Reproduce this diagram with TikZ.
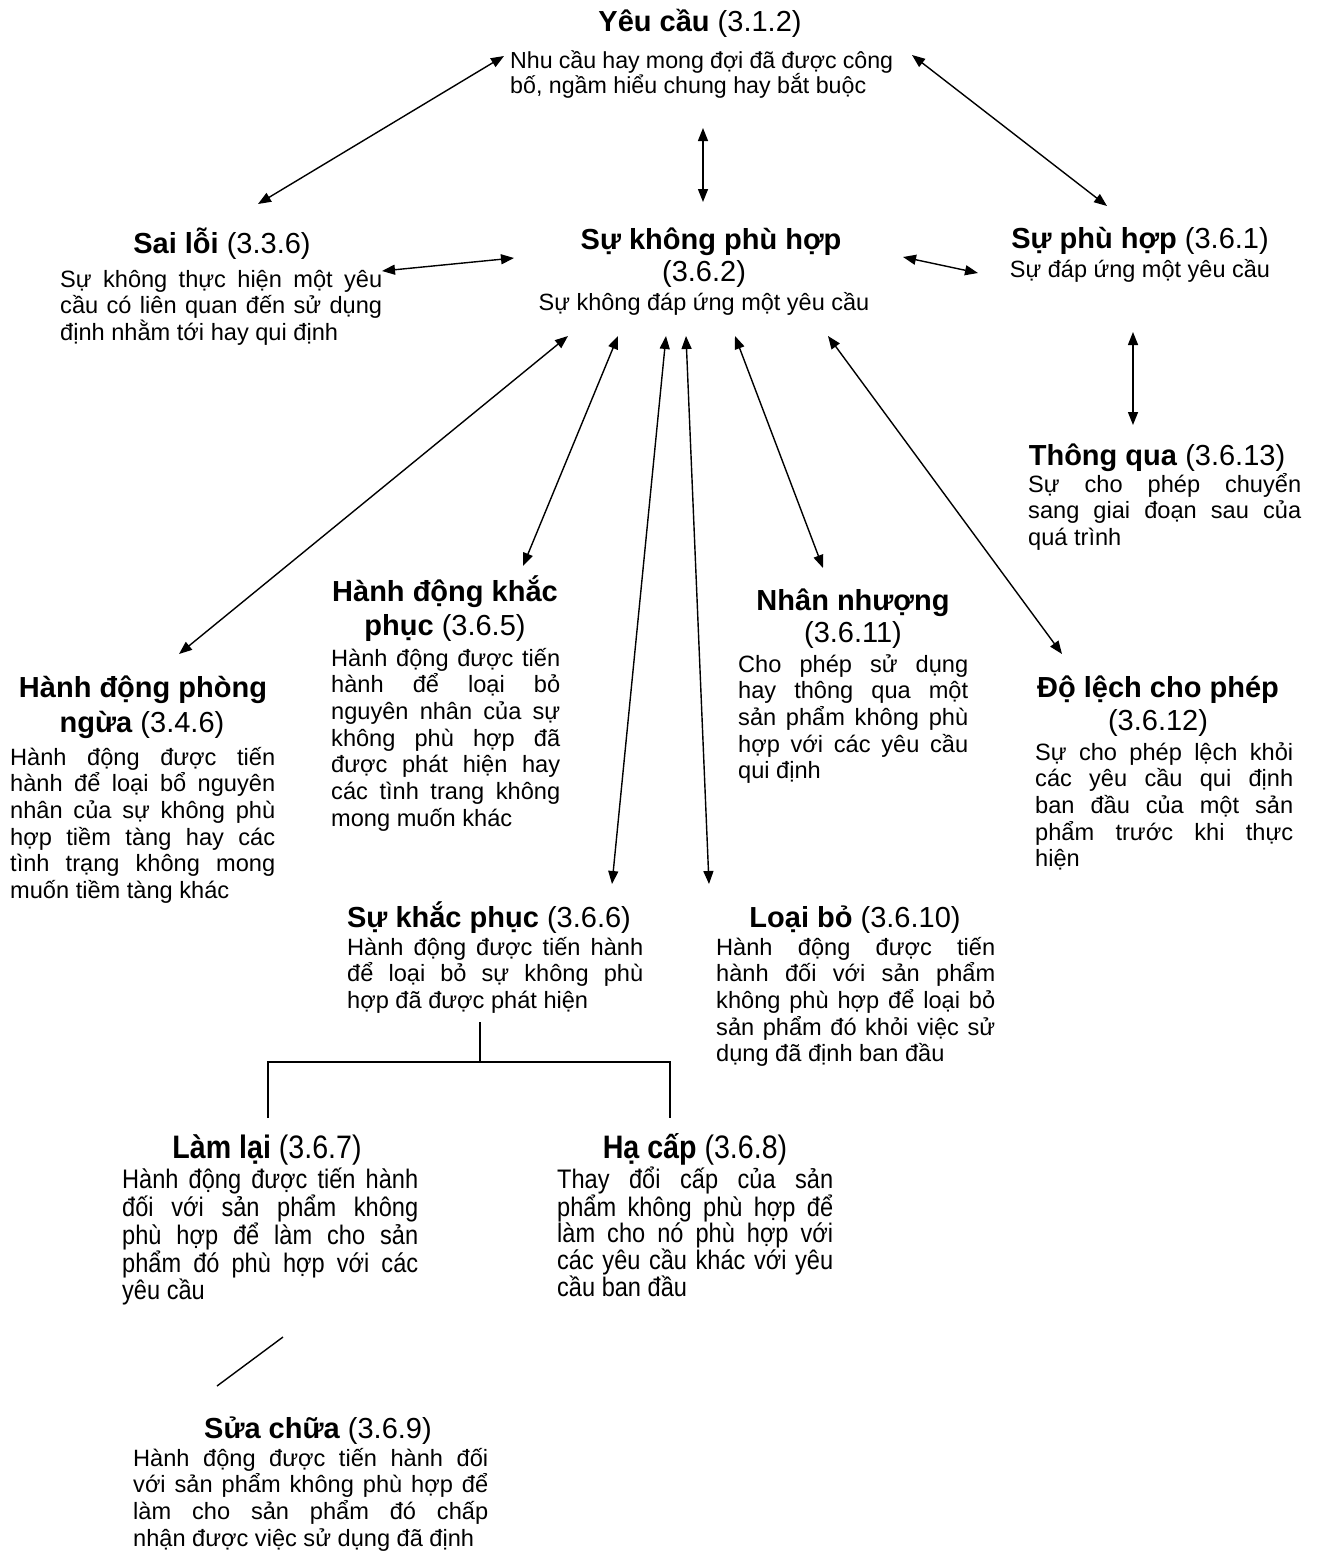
\documentclass[tikz,border=0pt]{standalone}
\usepackage{fontspec}
\setmainfont{Liberation Sans}
\newfontfamily\narrowfont[FakeStretch=0.88]{Liberation Sans}
\usetikzlibrary{arrows.meta}

\tikzset{
  headtext/.style={font=\fontsize{29}{33}\selectfont,anchor=base,inner sep=0pt},
  desctext/.style={font=\fontsize{23.6}{26.7}\selectfont,anchor=base west,inner sep=0pt,align=justify},
  smalltext/.style={font=\fontsize{23.5}{26}\selectfont,anchor=base,inner sep=0pt},
  narrowhead/.style={headtext,font=\narrowfont\fontsize{32.5}{36}\selectfont},
  narrowdesc/.style={desctext,font=\narrowfont\fontsize{26.8}{26.7}\selectfont},
  biarrow/.style={{Triangle[length=13pt,width=10pt]}-{Triangle[length=13pt,width=10pt]},line width=1.4pt},
  treeline/.style={line width=1.4pt}
}

\begin{document}
\begin{tikzpicture}[x=1pt,y=-1pt]
    \useasboundingbox (0,0) rectangle (1319,1553);
    %terms
    \node[headtext] (yc) at (700,31) {\textbf{Yêu cầu} (3.1.2)};
    \node[desctext,font=\fontsize{23.2}{23.2}\selectfont,text width=383pt] (yc-d) at (510,68) {Nhu cầu hay mong đợi đã được công\linebreak bố, ngầm hiểu chung hay bắt buộc};

    \node[headtext] (sl) at (222,253) {\textbf{Sai lỗi} (3.3.6)};
    \node[desctext,text width=322pt] (sl-d) at (60,287) {Sự không thực hiện một yêu\linebreak cầu có liên quan đến sử dụng\linebreak định nhằm tới hay qui định};

    \node[headtext] (skph) at (711,249) {\textbf{Sự không phù hợp}};
    \node[headtext] (skph-n) at (704,281) {(3.6.2)};
    \node[smalltext] (skph-d) at (704,310) {Sự không đáp ứng một yêu cầu};

    \node[headtext] (sph) at (1140,248) {\textbf{Sự phù hợp} (3.6.1)};
    \node[smalltext] (sph-d) at (1140,277) {Sự đáp ứng một yêu cầu};

    \node[headtext] (tq) at (1157,465) {\textbf{Thông qua} (3.6.13)};
    \node[desctext,text width=273pt] (tq-d) at (1028,492) {Sự cho phép chuyển\linebreak sang giai đoạn sau của\linebreak quá trình};

    \node[headtext] (hdpn) at (143,697) {\textbf{Hành động phòng}};
    \node[headtext] (hdpn-n) at (142,732) {\textbf{ngừa} (3.4.6)};
    \node[desctext,text width=265pt] (hdpn-d) at (10,765) {Hành động được tiến\linebreak hành để loại bổ nguyên\linebreak nhân của sự không phù\linebreak hợp tiềm tàng hay các\linebreak tình trạng không mong\linebreak muốn tiềm tàng khác};

    \node[headtext] (hdkp) at (445,601) {\textbf{Hành động khắc}};
    \node[headtext] (hdkp-n) at (445,635) {\textbf{phục} (3.6.5)};
    \node[desctext,text width=229pt] (hdkp-d) at (331,666) {Hành động được tiến\linebreak hành để loại bỏ\linebreak nguyên nhân của sự\linebreak không phù hợp đã\linebreak được phát hiện hay\linebreak các tình trang không\linebreak mong muốn khác};

    \node[headtext] (nn) at (853,610) {\textbf{Nhân nhượng}};
    \node[headtext] (nn-n) at (853,642) {(3.6.11)};
    \node[desctext,text width=230pt] (nn-d) at (738,672) {Cho phép sử dụng\linebreak hay thông qua một\linebreak sản phẩm không phù\linebreak hợp với các yêu cầu\linebreak qui định};

    \node[headtext] (dl) at (1158,697) {\textbf{Độ lệch cho phép}};
    \node[headtext] (dl-n) at (1158,730) {(3.6.12)};
    \node[desctext,text width=258pt] (dl-d) at (1035,760) {Sự cho phép lệch khỏi\linebreak các yêu cầu qui định\linebreak ban đầu của một sản\linebreak phẩm trước khi thực\linebreak hiện};

    \node[headtext] (skp) at (489,927) {\textbf{Sự khắc phục} (3.6.6)};
    \node[desctext,text width=296pt] (skp-d) at (347,955) {Hành động được tiến hành\linebreak để loại bỏ sự không phù\linebreak hợp đã được phát hiện};

    \node[headtext] (lb) at (855,927) {\textbf{Loại bỏ} (3.6.10)};
    \node[desctext,text width=279pt] (lb-d) at (716,955) {Hành động được tiến\linebreak hành đối với sản phẩm\linebreak không phù hợp để loại bỏ\linebreak sản phẩm đó khỏi việc sử\linebreak dụng đã định ban đầu};

    \node[narrowhead] (ll) at (267,1158) {\textbf{Làm lại} (3.6.7)};
    \node[narrowdesc,text width=296pt] (ll-d) at (122,1188) {Hành động được tiến hành\linebreak đối với sản phẩm không\linebreak phù hợp để làm cho sản\linebreak phẩm đó phù hợp với các\linebreak yêu cầu};

    \node[narrowhead] (hc) at (695,1158) {\textbf{Hạ cấp} (3.6.8)};
    \node[narrowdesc,text width=276pt] (hc-d) at (557,1188) {Thay đổi cấp của sản\linebreak phẩm không phù hợp để\linebreak làm cho nó phù hợp với\linebreak các yêu cầu khác với yêu\linebreak cầu ban đầu};

    \node[headtext] (sc) at (318,1438) {\textbf{Sửa chữa} (3.6.9)};
    \node[desctext,text width=355pt] (sc-d) at (133,1466) {\parfillskip=0pt Hành động được tiến hành đối\linebreak với sản phẩm không phù hợp để\linebreak làm cho sản phẩm đó chấp\linebreak nhận được việc sử dụng đã định};

    %arrow ends
    \coordinate (yc-sw) at (504,56);   \coordinate (sl-ne) at (258,204);
    \coordinate (yc-se) at (912,55);   \coordinate (sph-nw) at (1107,206);
    \coordinate (yc-s) at (703,128);   \coordinate (skph-top) at (703,202);
    \coordinate (sl-e) at (382,271);   \coordinate (skph-w) at (514,258);
    \coordinate (skph-e) at (903,257); \coordinate (sph-w) at (978,273);
    \coordinate (sph-s) at (1133,332); \coordinate (tq-top) at (1133,425);
    \coordinate (skph-s1) at (568,336); \coordinate (hdpn-top) at (179,654);
    \coordinate (skph-s2) at (618,336); \coordinate (hdkp-top) at (523,566);
    \coordinate (skph-s3) at (666,336); \coordinate (skp-top) at (612,884);
    \coordinate (skph-s4) at (686,336); \coordinate (lb-top) at (709,884);
    \coordinate (skph-s5) at (735,336); \coordinate (nn-top) at (823,568);
    \coordinate (skph-s6) at (828,336); \coordinate (dl-top) at (1062,654);

    \draw[biarrow] (yc-sw) -- (sl-ne);
    \draw[biarrow] (yc-se) -- (sph-nw);
    \draw[biarrow] (yc-s) -- (skph-top);
    \draw[biarrow] (sl-e) -- (skph-w);
    \draw[biarrow] (skph-e) -- (sph-w);
    \draw[biarrow] (sph-s) -- (tq-top);
    \draw[biarrow] (skph-s1) -- (hdpn-top);
    \draw[biarrow] (skph-s2) -- (hdkp-top);
    \draw[biarrow] (skph-s3) -- (skp-top);
    \draw[biarrow] (skph-s4) -- (lb-top);
    \draw[biarrow] (skph-s5) -- (nn-top);
    \draw[biarrow] (skph-s6) -- (dl-top);

    %tree
    \coordinate (skp-stem) at (480,1022); \coordinate (skp-fork) at (480,1062);
    \coordinate (ll-top) at (268,1062);  \coordinate (ll-foot) at (268,1118);
    \coordinate (hc-top) at (670,1062);  \coordinate (hc-foot) at (670,1118);
    \coordinate (ll-low) at (283,1337);  \coordinate (sc-top) at (217,1386);

    \draw[treeline] (skp-stem) -- (skp-fork);
    \draw[treeline] (ll-foot) -- (ll-top) -- (hc-top) -- (hc-foot);
    \draw[treeline] (ll-low) -- (sc-top);
\end{tikzpicture}
\end{document}
